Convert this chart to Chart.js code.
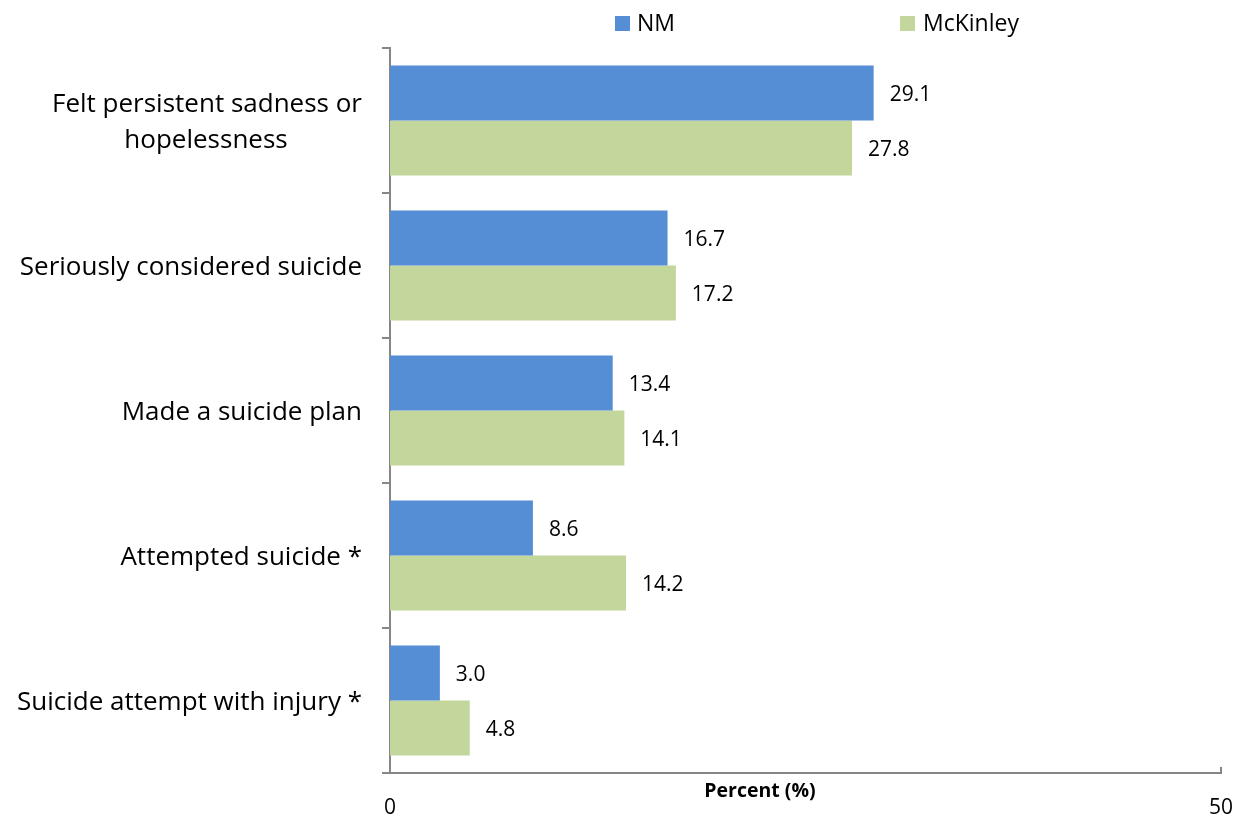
<!DOCTYPE html>
<html><head><meta charset="utf-8">
<script src="https://cdn.jsdelivr.net/npm/chart.js@4.4.0/dist/chart.umd.min.js"></script>
<style>html,body{margin:0;padding:0;background:#fff;overflow:hidden}#wrap{width:1246px;height:814px;position:relative}</style>
</head><body><div id="wrap"><canvas id="c" width="1246" height="814"></canvas></div>
<script>
const categories = [["Felt persistent sadness or","hopelessness"],"Seriously considered suicide","Made a suicide plan","Attempted suicide *","Suicide attempt with injury *"];
const seriesNames = ["NM","McKinley"];
const nmValues = [29.1,16.7,13.4,8.6,3.0];
const mckinleyValues = [27.8,17.2,14.1,14.2,4.8];
const xTicks = [0,50];
const xTitle = "Percent (%)";

const FONT = "'Open Sans', 'DejaVu Sans', sans-serif";
const colors = ["#558ED5","#C3D69B"];
const axisColor = "#868686";
const catFontSize = 26;

// center lines of multi-line labels by padding shorter lines with spaces
const mctx = document.createElement('canvas').getContext('2d');
function centerLines(lbl){
  if(!Array.isArray(lbl)) return lbl;
  mctx.font = catFontSize + "px " + FONT;
  const ws = lbl.map(s=>mctx.measureText(s).width);
  const maxW = Math.max(...ws);
  const sp = mctx.measureText("\u00A0").width;
  return lbl.map((s,i)=> s + "\u00A0".repeat(Math.round((maxW-ws[i])/2/sp)));
}
function zeroPad(s){ s.paddingLeft = 0; s.paddingRight = 0; s.paddingTop = 0; s.paddingBottom = 0; }

const overlay = {
  id:'overlay',
  afterDatasetsDraw(chart){
    const ctx = chart.ctx;
    ctx.save();
    ctx.font = "21px " + FONT;
    ctx.fillStyle = "#000";
    ctx.textAlign = "left";
    ctx.textBaseline = "middle";
    chart.data.datasets.forEach((ds,di)=>{
      const meta = chart.getDatasetMeta(di);
      meta.data.forEach((bar,i)=>{
        ctx.fillText(ds.data[i].toFixed(1), bar.x + 16, bar.y + 2);
      });
    });
    ctx.restore();
  },
  afterDraw(chart){
    const ctx = chart.ctx;
    const xs = chart.scales.x;
    ctx.save();
    // small tick at max value
    ctx.strokeStyle = axisColor; ctx.lineWidth = 2;
    const px = xs.getPixelForValue(xTicks[xTicks.length-1]);
    ctx.beginPath(); ctx.moveTo(px, xs.top); ctx.lineTo(px, xs.top-6); ctx.stroke();
    // axis title
    ctx.fillStyle = "#000";
    ctx.font = "bold 19.5px " + FONT;
    ctx.textAlign = "center"; ctx.textBaseline = "alphabetic";
    ctx.fillText(xTitle, 760, 797);
    // legend
    const items = [{x:615, tx:637},{x:900, tx:923}];
    ctx.font = "23px " + FONT;
    ctx.textAlign = "left"; ctx.textBaseline = "middle";
    chart.data.datasets.forEach((ds,i)=>{
      ctx.fillStyle = ds.backgroundColor;
      ctx.fillRect(items[i].x, 16, 15, 15);
      ctx.fillStyle = "#000";
      ctx.fillText(ds.label, items[i].tx, 24);
    });
    ctx.restore();
  }
};

new Chart(document.getElementById('c'), {
  type:'bar',
  data:{
    labels: categories,
    datasets:[
      {label:seriesNames[0], data:nmValues, backgroundColor:colors[0]},
      {label:seriesNames[1], data:mckinleyValues, backgroundColor:colors[1]}
    ]
  },
  options:{
    indexAxis:'y',
    responsive:false,
    animation:false,
    devicePixelRatio:1,
    layout:{padding:{left:0,right:25,top:48,bottom:0}},
    datasets:{bar:{categoryPercentage:0.76, barPercentage:1.0}},
    plugins:{legend:{display:false}, tooltip:{enabled:false}},
    scales:{
      x:{
        min:0, max:50,
        afterBuildTicks(s){ s.ticks = xTicks.map(v=>({value:v})); },
        afterFit(s){ s.height = 41; zeroPad(s); },
        grid:{display:false},
        border:{display:true, color:axisColor, width:2},
        ticks:{font:{family:FONT,size:21}, color:"#000", padding:14, maxRotation:0, autoSkip:false}
      },
      y:{
        afterFit(s){ s.width = 390; zeroPad(s); },
        grid:{display:true, drawOnChartArea:false, offset:true, tickLength:8, color:axisColor, lineWidth:2},
        border:{display:true, color:axisColor, width:2},
        ticks:{
          font:{family:FONT,size:catFontSize, lineHeight:1.38}, color:"#000", padding:20, labelOffset:2,
          callback(v,i){ return centerLines(categories[i]); }
        }
      }
    }
  },
  plugins:[overlay]
});
</script></body></html>
